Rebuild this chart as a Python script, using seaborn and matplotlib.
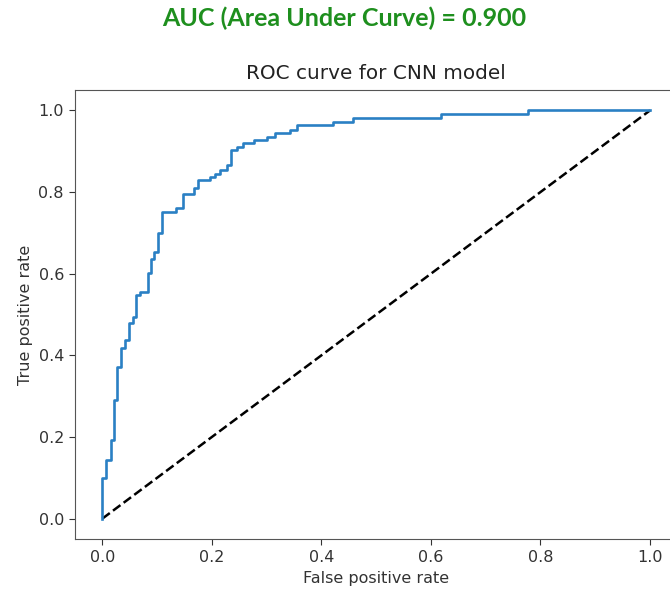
import matplotlib
matplotlib.use("Agg")
import matplotlib.pyplot as plt
import seaborn as sns
import pandas as pd

# ROC curve corner points
fpr = [0, 0, 0.007, 0.007, 0.015, 0.015, 0.021, 0.021, 0.027, 0.027,
       0.034, 0.034, 0.042, 0.042, 0.048, 0.048, 0.055, 0.055, 0.061, 0.061,
       0.069, 0.069, 0.083, 0.083, 0.089, 0.089, 0.095, 0.095, 0.102, 0.102,
       0.109, 0.109, 0.135, 0.135, 0.147, 0.147, 0.167, 0.167, 0.175, 0.175,
       0.197, 0.197, 0.206, 0.206, 0.215, 0.215, 0.228, 0.228, 0.234, 0.234,
       0.246, 0.246, 0.256, 0.256, 0.276, 0.276, 0.301, 0.301, 0.315, 0.315,
       0.342, 0.342, 0.356, 0.356, 0.421, 0.421, 0.457, 0.457, 0.619, 0.619,
       0.778, 0.778, 1.0]
tpr = [0, 0.10, 0.10, 0.144, 0.144, 0.193, 0.193, 0.291, 0.291, 0.372,
       0.372, 0.417, 0.417, 0.438, 0.438, 0.478, 0.478, 0.495, 0.495, 0.548,
       0.548, 0.556, 0.556, 0.601, 0.601, 0.635, 0.635, 0.654, 0.654, 0.699,
       0.699, 0.752, 0.752, 0.761, 0.761, 0.795, 0.795, 0.811, 0.811, 0.830,
       0.830, 0.838, 0.838, 0.844, 0.844, 0.855, 0.855, 0.866, 0.866, 0.902,
       0.902, 0.910, 0.910, 0.920, 0.920, 0.928, 0.928, 0.936, 0.936, 0.944,
       0.944, 0.953, 0.953, 0.965, 0.965, 0.971, 0.971, 0.981, 0.981, 0.990,
       0.990, 1.0, 1.0]
chance_x = [0, 1]
chance_y = [0, 1]
tick_vals = [0.0, 0.2, 0.4, 0.6, 0.8, 1.0]

auc_text = "AUC (Area Under Curve) = 0.900"
title = "ROC curve for CNN model"
xlabel = "False positive rate"
ylabel = "True positive rate"

W, H = 670, 594
fig = plt.figure(figsize=(W / 100, H / 100), dpi=100)
ax = fig.add_axes([75 / W, (H - 539) / H, (677.4 - 75) / W, (539 - 90) / H])

df_roc = pd.DataFrame({"fpr": fpr, "tpr": tpr})
df_chance = pd.DataFrame({"x": chance_x, "y": chance_y})

sns.lineplot(data=df_chance, x="x", y="y", ax=ax, sort=False, estimator=None,
             color="k", linestyle="--", linewidth=1.8)
sns.lineplot(data=df_roc, x="fpr", y="tpr", ax=ax, sort=False, estimator=None,
             color="#2a80c4", linewidth=1.9)

ax.set_xlim(-0.05, 1.05)
ax.set_ylim(-0.05, 1.05)
ax.set_xticks(tick_vals)
ax.set_yticks(tick_vals)
ax.tick_params(labelsize=11.5, colors="#333333", length=4.5)
for s in ax.spines.values():
    s.set_color("#555555")
ax.set_xlabel(xlabel, fontsize=11.5, color="#333333")
ax.set_ylabel(ylabel, fontsize=11.5, color="#333333")
ax.set_title(title, fontsize=14.4, color="#222222", pad=8)

fig.text(344 / W, 1 - 18 / H, auc_text, ha="center", va="center",
         fontsize=18, fontweight="bold", color="#1e8f1e", family=["Lato", "DejaVu Sans"])

fig.savefig("out.png", dpi=100)
